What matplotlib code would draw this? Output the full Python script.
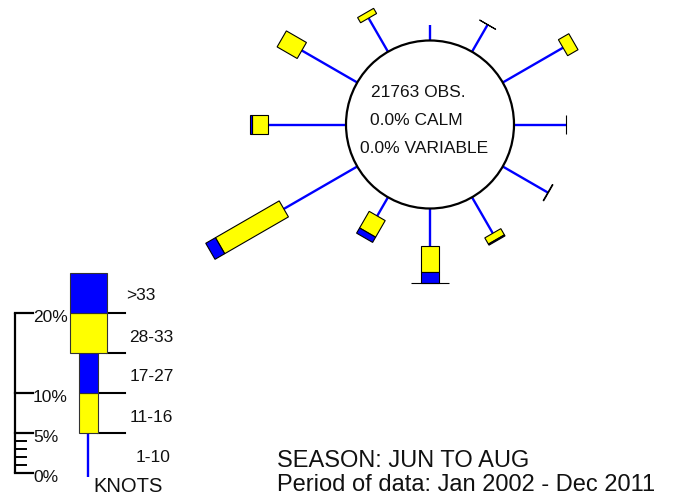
import numpy as np
import matplotlib
matplotlib.use("Agg")
import matplotlib.pyplot as plt
from matplotlib.patches import Polygon, Circle, Rectangle

plt.rcParams['font.family'] = ['Liberation Sans', 'DejaVu Sans']

# ---- data: frequency (%) by direction and speed class ----
directions = [0, 30, 60, 90, 120, 150, 180, 210, 240, 270, 300, 330]
speed_bins = ['1-10', '11-16', '17-27', '28-33', '>33']
pct_1_10 = [1.9, 3.9, 8.7, 6.5, 6.5, 5.2, 4.65, 2.7, 10.6, 9.8, 8.0, 4.85]
pct_11_16 = [0.0, 0.02, 1.5, 0.02, 0.08, 0.9, 3.3, 2.4, 9.2, 2.0, 2.9, 0.75]
pct_17_27 = [0.0, 0.0, 0.0, 0.0, 0.0, 0.15, 1.4, 0.75, 1.4, 0.25, 0.0, 0.0]
pct_28_33 = [0.0, 0.0, 0.0, 0.0, 0.0, 0.0, 0.02, 0.0, 0.0, 0.0, 0.0, 0.0]
pct_gt33 = [0.0, 0.0, 0.0, 0.0, 0.0, 0.0, 0.0, 0.0, 0.0, 0.0, 0.0, 0.0]

n_obs = 21763
calm_pct = 0.0
variable_pct = 0.0
season = 'JUN TO AUG'
period = 'Jan 2002 - Dec 2011'

scale_major = [0, 5, 10, 20]
scale_minor = [1, 2, 3, 4]
legend_step = 5

# ---- layout (pixels) ----
W, H = 675, 499
PX = 8.0                 # pixels per percent
cx, cy = 430, 124.5      # rose centre
R = 84 / PX              # inner circle radius
NARROW = 18.5 / PX
WIDE = 37.5 / PX
widths = [None, NARROW, NARROW, WIDE, WIDE]
colors = ['#0000ff', '#ffff00', '#0000ff', '#ffff00', '#0000ff']

fig = plt.figure(figsize=(W / 100, H / 100), dpi=100)
ax = fig.add_axes([0, 0, 1, 1])
ax.set_xlim(-cx / PX, (W - cx) / PX)
ax.set_ylim(-(H - cy) / PX, cy / PX)
ax.axis('off')


def fx(x):
    return x / W


def fy(y):
    return 1 - y / H


def radial_box(r0, r1, theta, w, color):
    t = np.deg2rad(theta)
    u = np.array([np.sin(t), np.cos(t)])
    p = np.array([np.cos(t), -np.sin(t)])
    pts = [r0 * u - w / 2 * p, r1 * u - w / 2 * p,
           r1 * u + w / 2 * p, r0 * u + w / 2 * p]
    ax.add_patch(Polygon(pts, closed=True, fc=color, ec='black',
                         lw=0.8, zorder=3))


series = [pct_1_10, pct_11_16, pct_17_27, pct_28_33, pct_gt33]
for i, theta in enumerate(directions):
    t = np.deg2rad(theta)
    u = np.array([np.sin(t), np.cos(t)])
    r = R
    vals = [s[i] for s in series]
    # lightest class drawn as a line
    r_end = r + vals[0]
    ax.plot([r * u[0], r_end * u[0]], [r * u[1], r_end * u[1]],
            color=colors[0], lw=1.7, solid_capstyle='butt', zorder=2)
    r = r_end
    for k in range(1, 5):
        if vals[k] > 0:
            radial_box(r, r + vals[k], theta, widths[k], colors[k])
            r += vals[k]

ax.add_patch(Circle((0, 0), R, fc='white', ec='black', lw=1.6, zorder=4))

txt_kw = dict(fontsize=12.5, color='#111111', ha='center', va='baseline')
fig.text(fx(418), fy(96.7), f'{n_obs} OBS.', **txt_kw)
fig.text(fx(416.7), fy(125), f'{calm_pct:.1f}% CALM', **txt_kw)
fig.text(fx(424), fy(153.3), f'{variable_pct:.1f}% VARIABLE', **txt_kw)

# ---- legend: percentage scale ----
sx = (15 - cx) / PX
y0 = -(473.3 - cy) / PX
major_len = 18 / PX
minor_len = 11 / PX
ax.plot([sx, sx], [y0, y0 + max(scale_major)], color='black', lw=1.6,
        solid_capstyle='butt')
for v in scale_major:
    ax.plot([sx, sx + major_len], [y0 + v, y0 + v], color='black', lw=1.6)
for v in scale_minor:
    ax.plot([sx, sx + minor_len], [y0 + v, y0 + v], color='black', lw=1.4)
for v in scale_major:
    ypix = 473.3 - v * PX
    fig.text(fx(33), fy(ypix + 8.4), f'{v}%', fontsize=12.5,
             ha='left', va='baseline', color='#111111')

# ---- legend: speed classes ----
lx = (88.5 - cx) / PX
ax.plot([lx, lx], [y0 - 0.5, y0 + legend_step], color=colors[0], lw=1.7,
        solid_capstyle='butt')
for k in range(1, 5):
    b = y0 + k * legend_step
    w = widths[k]
    ax.add_patch(Rectangle((lx - w / 2, b), w, legend_step, fc=colors[k],
                           ec='#333333', lw=0.8, zorder=3))
    ax.plot([lx + w / 2, lx + 37.5 / PX / 2 + 18 / PX], [b, b],
            color='black', lw=1.5, zorder=2)

label_pos = [(136, 461.7), (129.3, 421.7), (129.3, 380.7), (129.3, 341.7),
             (126, 300)]
for lab, (xp, yp) in zip(speed_bins, label_pos):
    fig.text(fx(xp), fy(yp), lab, fontsize=12.5, ha='left', va='baseline',
             color='#111111')
fig.text(fx(93.3), fy(491.7), 'KNOTS', fontsize=14.5, ha='left',
         va='baseline', color='#111111')

fig.text(fx(276.7), fy(467.3), f'SEASON: {season}', fontsize=17,
         ha='left', va='baseline', color='#111111')
fig.text(fx(276.7), fy(490.7), f'Period of data: {period}', fontsize=17,
         ha='left', va='baseline', color='#111111')

fig.savefig('out.png', dpi=100)
